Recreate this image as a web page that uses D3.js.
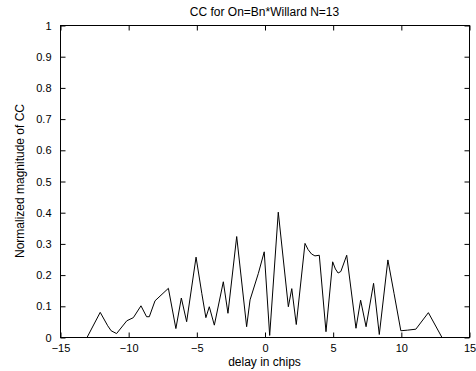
<!DOCTYPE html>
<html>
<head>
<meta charset="utf-8">
<script src="https://cdn.jsdelivr.net/npm/d3@7"></script>
<style>
  body { margin: 0; background: #fff; }
  text { font-family: "Liberation Sans", Arial, sans-serif; font-size: 12px; fill: #000; }
</style>
</head>
<body>
<svg id="chart" width="476" height="371"></svg>
<script>
const delay = [-13, -12.05, -11.5, -11.25, -10.85, -10.1, -9.62, -9.06, -8.65, -8.45, -8.03, -7.05,
  -6.5, -6.1, -5.71, -5.02, -4.6, -4.3, -4.05, -3.68, -3.02, -2.68, -2.04, -1.31, -1.06, -0.45,
  -0.02, 0.38, 1.01, 1.75, 2.0, 2.33, 2.97, 3.2, 3.45, 3.7, 4.02, 4.51, 5.0, 5.2, 5.4, 5.6, 6.03,
  6.71, 7.05, 7.45, 8.0, 8.42, 9.05, 9.5, 10.0, 10.5, 11.1, 12.02, 13.0];
const cc = [0, 0.079, 0.036, 0.02, 0.011, 0.052, 0.062, 0.1, 0.065, 0.065, 0.116, 0.156,
  0.027, 0.125, 0.049, 0.256, 0.14, 0.062, 0.097, 0.038, 0.177, 0.076, 0.322, 0.033, 0.119, 0.204,
  0.273, 0.005, 0.4, 0.097, 0.155, 0.04, 0.3, 0.28, 0.266, 0.26, 0.262, 0.017, 0.241, 0.218, 0.205, 0.21, 0.262,
  0.028, 0.118, 0.033, 0.172, 0.008, 0.247, 0.14, 0.02, 0.022, 0.025, 0.078, 0];
const xTicks = [-15, -10, -5, 0, 5, 10, 15];
const yTicks = [0, 0.1, 0.2, 0.3, 0.4, 0.5, 0.6, 0.7, 0.8, 0.9, 1];

const m = { left: 60, right: 469, top: 25, bottom: 337 };
const svg = d3.select('#chart');

const x = d3.scaleLinear().domain([-15, 15]).range([m.left, m.right]);
const y = d3.scaleLinear().domain([0, 1]).range([m.bottom, m.top]);

// box
svg.append('rect')
    .attr('x', m.left + 0.5).attr('y', m.top + 0.5)
    .attr('width', m.right - m.left).attr('height', m.bottom - m.top)
    .attr('fill', 'none').attr('stroke', '#000');

// inward ticks, matlab style
svg.append('g')
    .attr('transform', `translate(0.5,${m.bottom + 0.5})`)
    .call(d3.axisBottom(x).tickValues(xTicks).tickSize(-5).tickPadding(7).tickFormat(d3.format('d')))
    .call(g => g.select('.domain').remove());
svg.append('g')
    .attr('transform', `translate(0.5,${m.top + 0.5})`)
    .call(d3.axisTop(x).tickValues(xTicks).tickSize(-5).tickFormat(''))
    .call(g => g.select('.domain').remove());
svg.append('g')
    .attr('transform', `translate(${m.left + 0.5},0.5)`)
    .call(d3.axisLeft(y).tickValues(yTicks).tickSize(-5).tickPadding(9).tickFormat(d => d === 0 || d === 1 ? d : d3.format('.1f')(d)))
    .call(g => g.select('.domain').remove());
svg.append('g')
    .attr('transform', `translate(${m.right + 0.5},0.5)`)
    .call(d3.axisRight(y).tickValues(yTicks).tickSize(-5).tickFormat(''))
    .call(g => g.select('.domain').remove());

svg.selectAll('.tick text').style('font-family', '"Liberation Sans", Arial, sans-serif').style('font-size', '11px');
svg.selectAll('.tick line').attr('stroke', '#000');

const line = d3.line().x((d, i) => x(delay[i])).y(d => y(d));
svg.append('path')
    .datum(cc)
    .attr('fill', 'none')
    .attr('stroke', '#000')
    .attr('stroke-width', 1)
    .attr('d', line);

svg.append('text')
    .attr('x', (m.left + m.right) / 2).attr('y', 16)
    .attr('text-anchor', 'middle')
    .text('CC for On=Bn*Willard N=13');

svg.append('text')
    .attr('x', (m.left + m.right) / 2).attr('y', 366)
    .attr('text-anchor', 'middle')
    .text('delay in chips');

svg.append('text')
    .attr('transform', `translate(24,${(m.top + m.bottom) / 2}) rotate(-90)`)
    .attr('text-anchor', 'middle')
    .text('Normalized magnitude of CC');
</script>
</body>
</html>
